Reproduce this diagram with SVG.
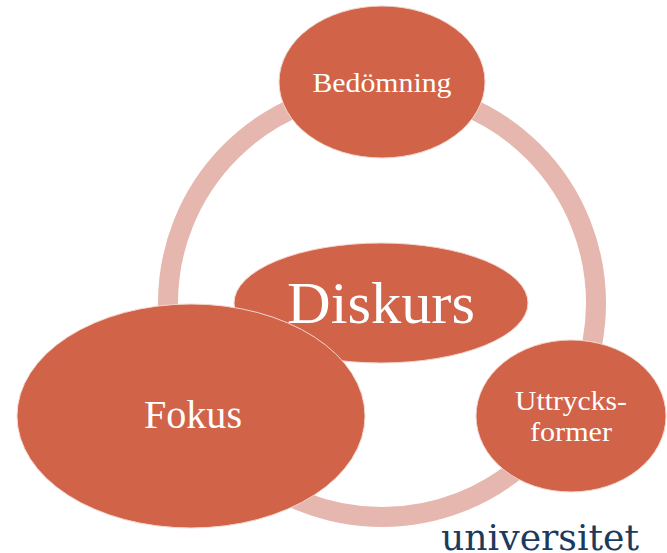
<svg xmlns="http://www.w3.org/2000/svg" width="667" height="553" viewBox="0 0 667 553">
<style>
.n{fill:#d16349;stroke:#f3d6cf;stroke-width:1}
.t{font-family:"Liberation Serif",serif;fill:#fff;text-anchor:middle}
</style>
<rect width="667" height="553" fill="#fff"/>
<g id="connectors"><circle cx="382" cy="303" r="214" fill="none" stroke="#e6b7ae" stroke-width="20"/></g>
<g id="diskurs"><ellipse class="n" cx="381" cy="303" rx="147" ry="60"/><text class="t" x="381" y="323" font-size="60" textLength="188" lengthAdjust="spacingAndGlyphs">Diskurs</text></g>
<g id="bedomning"><ellipse class="n" cx="382" cy="82" rx="103" ry="76"/><text class="t" x="382" y="92" font-size="28" textLength="139" lengthAdjust="spacingAndGlyphs">Bedömning</text></g>
<g id="uttrycksformer"><ellipse class="n" cx="571" cy="416" rx="95" ry="76"/><text class="t" x="571" y="410" font-size="28" textLength="112" lengthAdjust="spacingAndGlyphs">Uttrycks-</text><text class="t" x="571" y="441" font-size="28" textLength="82" lengthAdjust="spacingAndGlyphs">former</text></g>
<g id="fokus"><ellipse class="n" cx="191" cy="416" rx="174" ry="112"/><text class="t" x="193" y="428" font-size="39" textLength="98" lengthAdjust="spacingAndGlyphs">Fokus</text></g>
<text id="logo" x="540" y="550" font-family="DejaVu Serif, serif" font-size="35" fill="#1b3a5c" text-anchor="middle" textLength="198" lengthAdjust="spacingAndGlyphs">universitet</text>
</svg>
